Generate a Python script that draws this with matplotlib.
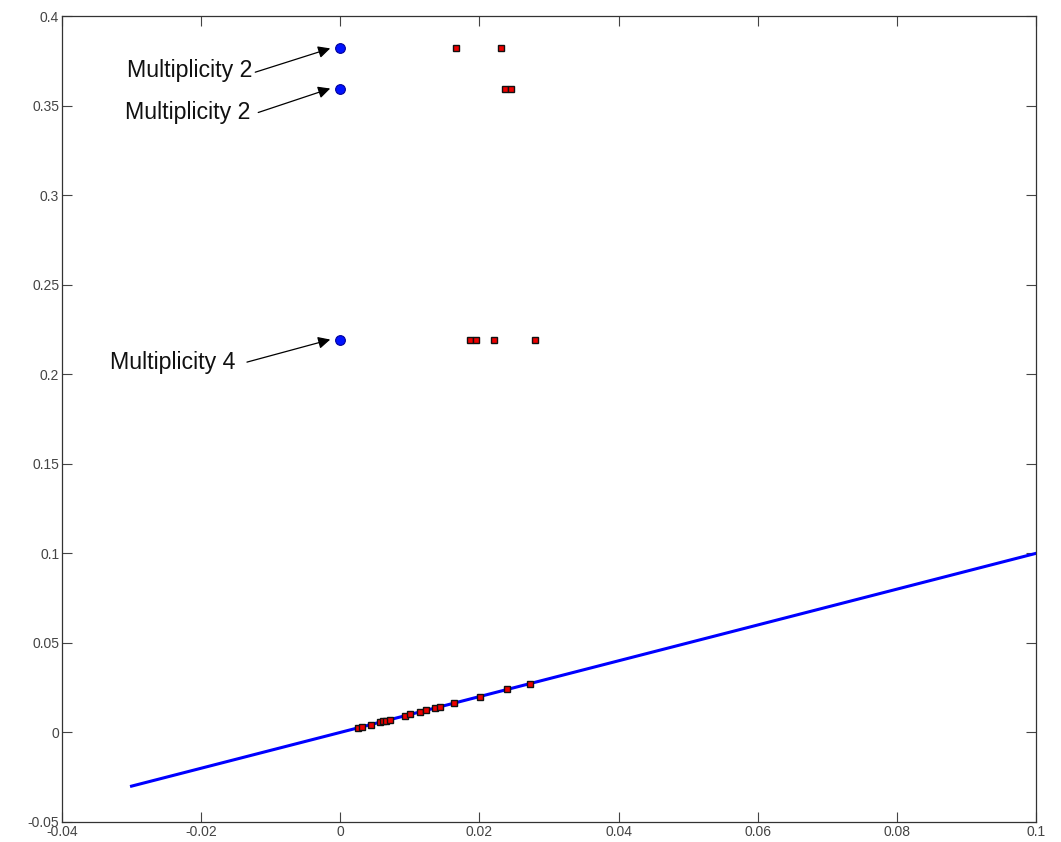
import matplotlib
matplotlib.use('Agg')
import matplotlib.pyplot as plt

plt.rcParams['font.family'] = ['Liberation Sans', 'DejaVu Sans']

# reference line y = x
line_x = [-0.03, 0.1]
line_y = [-0.03, 0.1]

# eigenvalues lying on the line
on_line_x = [0.00254, 0.00307, 0.00441, 0.00566, 0.00613, 0.00661, 0.00709,
             0.00934, 0.01006, 0.0115, 0.01232, 0.01356, 0.01433, 0.01634,
             0.02002, 0.024, 0.02721]
on_line_y = [0.00254, 0.00307, 0.00441, 0.00566, 0.00613, 0.00661, 0.00709,
             0.00934, 0.01006, 0.0115, 0.01232, 0.01356, 0.01433, 0.01634,
             0.02002, 0.024, 0.02721]

# eigenvalues off the line
off_x = [0.01663, 0.02305, 0.02363, 0.02458, 0.01864, 0.01946, 0.02209, 0.02798]
off_y = [0.382, 0.382, 0.3596, 0.3596, 0.2194, 0.2194, 0.2194, 0.2194]

# multiple eigenvalues
mult_x = [0.0, 0.0, 0.0]
mult_y = [0.382, 0.3596, 0.2194]
mult_labels = ['Multiplicity 2', 'Multiplicity 2', 'Multiplicity 4']
# label anchor (right edge, baseline), arrow start, arrow tip
label_pos = [(-0.01265, 0.3659), (-0.01294, 0.3423), (-0.01509, 0.2031)]
arrow_start = [(-0.01222, 0.3687), (-0.01179, 0.3462), (-0.01341, 0.2068)]
arrow_tip_x = -0.00144

xticks = [-0.04, -0.02, 0, 0.02, 0.04, 0.06, 0.08, 0.1]
yticks = [-0.05, 0, 0.05, 0.1, 0.15, 0.2, 0.25, 0.3, 0.35, 0.4]

fig = plt.figure(figsize=(10.61, 8.42), dpi=100)
ax = fig.add_axes([0.0584, 0.0238, 0.918, 0.957])

ax.plot(line_x, line_y, color='#0000ff', lw=2.2, zorder=2)
ax.plot(on_line_x, on_line_y, 's', ms=4.5, mfc='#ee0000', mec='#111111', mew=1, zorder=3)
ax.plot(off_x, off_y, 's', ms=4.5, mfc='#ee0000', mec='#111111', mew=1, zorder=3)
ax.plot(mult_x, mult_y, 'o', ms=7, mfc='#0011ff', mec='#000099', mew=0.8, zorder=3)

for lab, (tx, ty), (sx, sy), my in zip(mult_labels, label_pos, arrow_start, mult_y):
    ax.text(tx, ty, lab, ha='right', va='baseline', fontsize=16.7, color='#111111')
    ax.annotate('', xy=(arrow_tip_x, my), xytext=(sx, sy),
                arrowprops=dict(arrowstyle='-|>', color='black', lw=0.9,
                                mutation_scale=18, shrinkA=0, shrinkB=0))

ax.set_xlim(-0.04, 0.1)
ax.set_ylim(-0.05, 0.4)
ax.set_xticks(xticks)
ax.set_yticks(yticks)
ax.set_xticklabels(['-0.04', '-0.02', '0', '0.02', '0.04', '0.06', '0.08', '0.1'])
ax.set_yticklabels(['-0.05', '0', '0.05', '0.1', '0.15', '0.2', '0.25', '0.3', '0.35', '0.4'])
ax.tick_params(direction='in', length=7, width=0.8, color='#444444',
               labelcolor='#444444', labelsize=10, top=True, right=True, pad=2)
for s in ax.spines.values():
    s.set_color('#333333')
    s.set_linewidth(0.9)

fig.savefig('out.png', dpi=100)
